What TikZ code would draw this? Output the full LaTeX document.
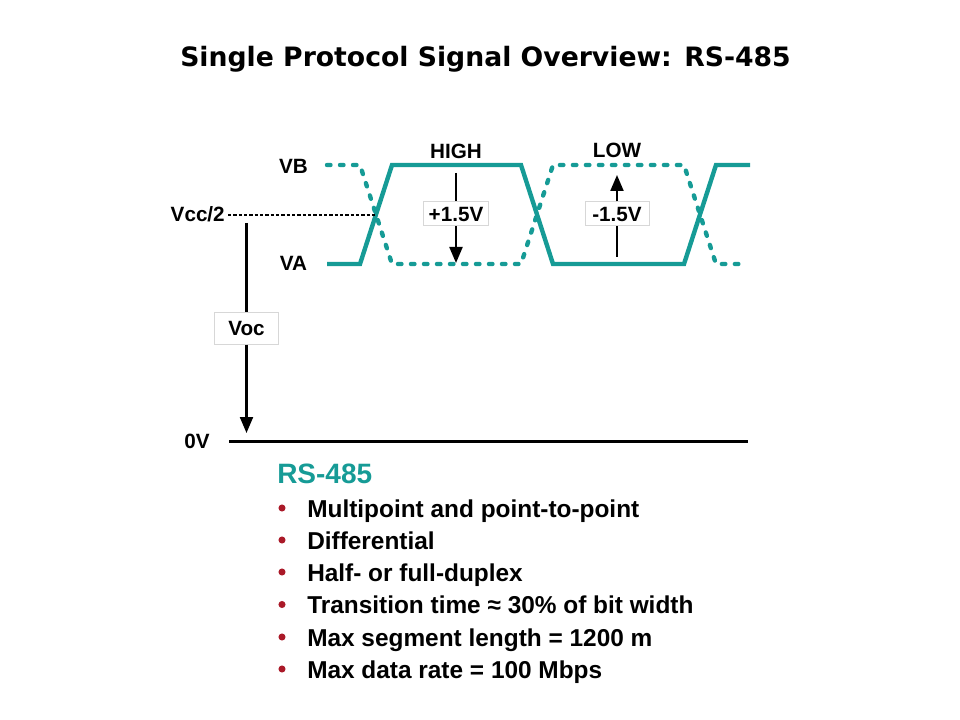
\documentclass[tikz,border=0pt]{standalone}
\usepackage{fontspec}
\setmainfont{Liberation Sans}
\newfontfamily\titlefont{DejaVu Sans}
\usetikzlibrary{arrows.meta}
\definecolor{teal485}{RGB}{22,155,150}
\definecolor{bulletred}{RGB}{170,25,40}
\definecolor{boxgray}{RGB}{215,215,215}
\begin{document}
\begin{tikzpicture}[x=0.75pt,y=-0.75pt,
  lbl/.style={font=\fontsize{15.5}{18}\selectfont\bfseries, inner sep=0pt, anchor=base},
  valbox/.style={draw=boxgray, line width=0.75pt, fill=white, inner sep=0pt,
                 font=\fontsize{15.5}{18}\selectfont\bfseries},
  sig/.style={draw=teal485, line width=3.3pt, line join=miter},
  sigdash/.style={draw=teal485, line width=3.3pt, line cap=round, line join=round,
                  dash pattern=on 2.6pt off 7.15pt},
  vline/.style={draw=black, line width=1.6pt},
  varrow/.style={draw=black, line width=1.6pt, -{Triangle[width=9.75pt,length=12pt]}},
  bul/.style={circle, fill=bulletred, inner sep=0pt, minimum size=5.3pt},
  itemtxt/.style={anchor=base west, inner sep=0pt, font=\fontsize{18.3}{22}\selectfont\bfseries}
]
\useasboundingbox (0,0) rectangle (960,720);

% title
\node[anchor=base, inner sep=0pt, font=\fontsize{20}{24}\selectfont\titlefont\bfseries]
  (title) at (485.5,67) {Single Protocol Signal Overview: RS-485};

% labels
\node[lbl] (vb) at (293.5,173.5) {VB};
\node[lbl] (va) at (293.5,271) {VA};
\node[lbl, anchor=base east] (vcc) at (225,221.5) {Vcc/2};
\node[lbl] (zerov) at (197,448.5) {0V};
\node[lbl] (high) at (456,158.3) {HIGH};
\node[lbl] (low) at (617,157.5) {LOW};

% signals
\draw[sigdash] (327,165) -- (360,165) -- (392,264) -- (521,264) -- (553,165)
  -- (684,165) -- (716,264) -- (740,264);
\draw[sig] (327,264) -- (360,264) -- (392,165) -- (521,165) -- (553,264)
  -- (684,264) -- (716,165) -- (750,165);

% Vcc/2 reference
\coordinate (vccL) at (228,215);
\coordinate (cross1) at (376,215);
\draw[black, line width=1.4pt, dash pattern=on 2.4pt off 1.6pt] (vccL) -- (cross1);

% 0V line
\coordinate (zl) at (229,441.5);
\coordinate (zr) at (748,441.5);
\draw[black, line width=2.2pt] (zl) -- (zr);

% Voc arrow
\node[valbox, minimum width=48pt, minimum height=24pt] (voc) at (246.5,328) {Voc};
\coordinate (vocTop) at (246.5,223);
\coordinate (vocTip) at (246.5,433);
\draw[vline] (vocTop) -- (voc.north);
\draw[varrow] (voc.south) -- (vocTip);

% +1.5V arrow
\node[valbox, minimum width=48.75pt, minimum height=18pt] (plus) at (456,214) {+1.5V};
\coordinate (plusTop) at (456,173);
\coordinate (plusTip) at (456,263);
\draw[vline] (plusTop) -- (plus.north);
\draw[varrow] (plus.south) -- (plusTip);

% -1.5V arrow
\node[valbox, minimum width=48pt, minimum height=18pt] (minus) at (617,214) {-1.5V};
\coordinate (minusBot) at (617,257);
\coordinate (minusTip) at (617,175);
\draw[vline] (minusBot) -- (minus.south);
\draw[varrow] (minus.north) -- (minusTip);

% list
\node[anchor=base west, inner sep=0pt, text=teal485, font=\fontsize{21}{25}\selectfont\bfseries]
  (head) at (277,483.5) {RS-485};
\foreach \i/\yb/\t in {1/517/{Multipoint and point-to-point},
                       2/549/{Differential},
                       3/581/{Half- or full-duplex},
                       4/613.5/{Transition time ≈ 30\% of bit width},
                       5/646/{Max segment length = 1200 m},
                       6/678/{Max data rate = 100 Mbps}} {
  \node[bul] (b\i) at (282,\yb-9) {};
  \node[itemtxt] (t\i) at (307,\yb) {\t};
}
\end{tikzpicture}
\end{document}
